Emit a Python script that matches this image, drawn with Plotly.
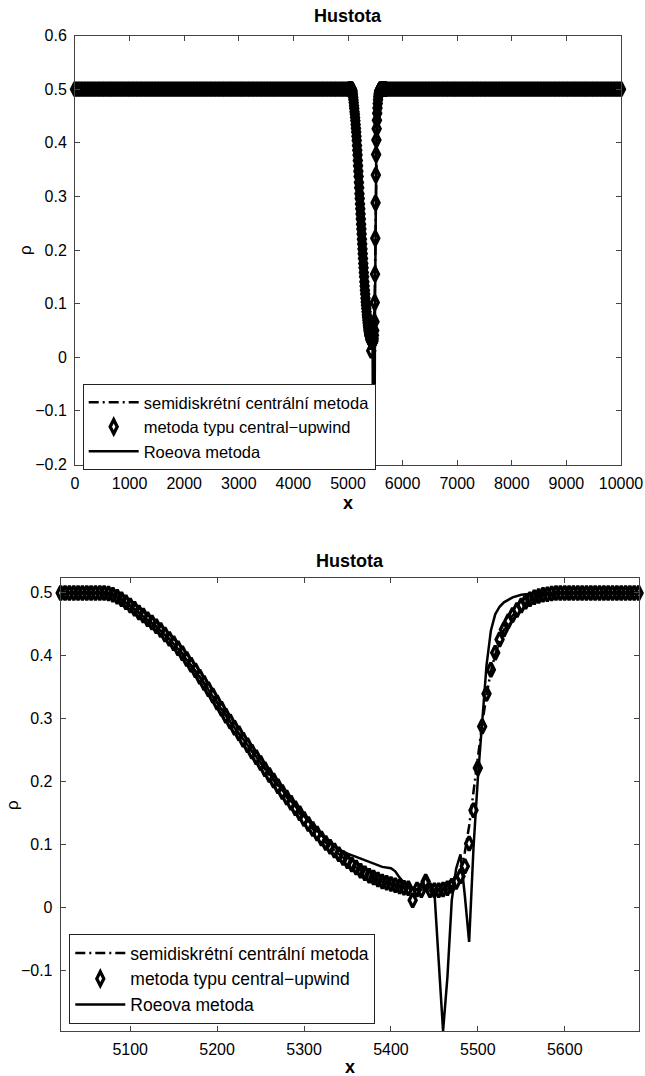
import plotly.graph_objects as go

# ---------------- data ----------------
# x tick labels
x_ticks_top = [0, 1000, 2000, 3000, 4000, 5000, 6000, 7000, 8000, 9000, 10000]
x_ticks_bottom = [5100, 5200, 5300, 5400, 5500, 5600]
y_ticks_top = [-0.2, -0.1, 0, 0.1, 0.2, 0.3, 0.4, 0.5, 0.6]
y_ticklabels_top = ["\u22120.2", "\u22120.1", "0", "0.1", "0.2", "0.3", "0.4", "0.5", "0.6"]
y_ticks_bottom = [-0.1, 0, 0.1, 0.2, 0.3, 0.4, 0.5]
y_ticklabels_bottom = ["\u22120.1", "0", "0.1", "0.2", "0.3", "0.4", "0.5"]

# central-upwind scheme (diamonds): plateau left of the wave
cu_x_left = [0, 50, 100, 150, 200, 250, 300, 350, 400, 450,
             500, 550, 600, 650, 700, 750, 800, 850, 900, 950,
             1000, 1050, 1100, 1150, 1200, 1250, 1300, 1350, 1400, 1450,
             1500, 1550, 1600, 1650, 1700, 1750, 1800, 1850, 1900, 1950,
             2000, 2050, 2100, 2150, 2200, 2250, 2300, 2350, 2400, 2450,
             2500, 2550, 2600, 2650, 2700, 2750, 2800, 2850, 2900, 2950,
             3000, 3050, 3100, 3150, 3200, 3250, 3300, 3350, 3400, 3450,
             3500, 3550, 3600, 3650, 3700, 3750, 3800, 3850, 3900, 3950,
             4000, 4050, 4100, 4150, 4200, 4250, 4300, 4350, 4400, 4450,
             4500, 4550, 4600, 4650, 4700, 4750, 4800, 4850, 4900, 4950,
             5000]
cu_rho_left = [0.5, 0.5, 0.5, 0.5, 0.5, 0.5, 0.5, 0.5, 0.5, 0.5,
               0.5, 0.5, 0.5, 0.5, 0.5, 0.5, 0.5, 0.5, 0.5, 0.5,
               0.5, 0.5, 0.5, 0.5, 0.5, 0.5, 0.5, 0.5, 0.5, 0.5,
               0.5, 0.5, 0.5, 0.5, 0.5, 0.5, 0.5, 0.5, 0.5, 0.5,
               0.5, 0.5, 0.5, 0.5, 0.5, 0.5, 0.5, 0.5, 0.5, 0.5,
               0.5, 0.5, 0.5, 0.5, 0.5, 0.5, 0.5, 0.5, 0.5, 0.5,
               0.5, 0.5, 0.5, 0.5, 0.5, 0.5, 0.5, 0.5, 0.5, 0.5,
               0.5, 0.5, 0.5, 0.5, 0.5, 0.5, 0.5, 0.5, 0.5, 0.5,
               0.5, 0.5, 0.5, 0.5, 0.5, 0.5, 0.5, 0.5, 0.5, 0.5,
               0.5, 0.5, 0.5, 0.5, 0.5, 0.5, 0.5, 0.5, 0.5, 0.5,
               0.5]
# central-upwind scheme: the wave region
cu_x_mid = [5020, 5025, 5030, 5035, 5040, 5045, 5050, 5055, 5060, 5065,
            5070, 5075, 5080, 5085, 5090, 5095, 5100, 5105, 5110, 5115,
            5120, 5125, 5130, 5135, 5140, 5145, 5150, 5155, 5160, 5165,
            5170, 5175, 5180, 5185, 5190, 5195, 5200, 5205, 5210, 5215,
            5220, 5225, 5230, 5235, 5240, 5245, 5250, 5255, 5260, 5265,
            5270, 5275, 5280, 5285, 5290, 5295, 5300, 5305, 5310, 5315,
            5320, 5325, 5330, 5335, 5340, 5345, 5350, 5355, 5360, 5365,
            5370, 5375, 5380, 5385, 5390, 5395, 5400, 5405, 5410, 5415,
            5420, 5425, 5430, 5435, 5440, 5445, 5450, 5455, 5460, 5465,
            5470, 5475, 5480, 5485, 5490, 5495, 5500, 5505, 5510, 5515,
            5520, 5525, 5530, 5535, 5540, 5545, 5550, 5555, 5560, 5565,
            5570, 5575, 5580, 5585, 5590, 5595, 5600, 5605, 5610, 5615,
            5620, 5625, 5630, 5635, 5640, 5645, 5650, 5655, 5660, 5665,
            5670, 5675, 5680, 5685, 5690]
cu_rho_mid = [0.500, 0.500, 0.500, 0.500, 0.500, 0.500, 0.500, 0.500, 0.500, 0.500,
              0.500, 0.499, 0.497, 0.494, 0.490, 0.485, 0.480, 0.475, 0.469, 0.464,
              0.458, 0.453, 0.447, 0.441, 0.434, 0.427, 0.420, 0.412, 0.404, 0.395,
              0.386, 0.377, 0.367, 0.357, 0.347, 0.337, 0.326, 0.316, 0.305, 0.296,
              0.286, 0.277, 0.267, 0.258, 0.248, 0.239, 0.230, 0.220, 0.211, 0.202,
              0.193, 0.184, 0.175, 0.167, 0.158, 0.150, 0.141, 0.133, 0.125, 0.118,
              0.110, 0.103, 0.097, 0.091, 0.085, 0.079, 0.074, 0.069, 0.064, 0.059,
              0.055, 0.051, 0.048, 0.045, 0.042, 0.040, 0.038, 0.036, 0.034, 0.032,
              0.031, 0.012, 0.029, 0.028, 0.042, 0.028, 0.028, 0.028, 0.029, 0.031,
              0.035, 0.041, 0.050, 0.066, 0.102, 0.155, 0.222, 0.288, 0.340, 0.378,
              0.405, 0.426, 0.442, 0.455, 0.465, 0.473, 0.480, 0.486, 0.490, 0.493,
              0.495, 0.497, 0.498, 0.499, 0.500, 0.500, 0.500, 0.500, 0.500, 0.500,
              0.500, 0.500, 0.500, 0.500, 0.500, 0.500, 0.500, 0.500, 0.500, 0.500,
              0.500, 0.500, 0.500, 0.500, 0.500]
# central-upwind scheme: plateau right of the wave
cu_x_right = [5700, 5750, 5800, 5850, 5900, 5950,
              6000, 6050, 6100, 6150, 6200, 6250, 6300, 6350, 6400, 6450,
              6500, 6550, 6600, 6650, 6700, 6750, 6800, 6850, 6900, 6950,
              7000, 7050, 7100, 7150, 7200, 7250, 7300, 7350, 7400, 7450,
              7500, 7550, 7600, 7650, 7700, 7750, 7800, 7850, 7900, 7950,
              8000, 8050, 8100, 8150, 8200, 8250, 8300, 8350, 8400, 8450,
              8500, 8550, 8600, 8650, 8700, 8750, 8800, 8850, 8900, 8950,
              9000, 9050, 9100, 9150, 9200, 9250, 9300, 9350, 9400, 9450,
              9500, 9550, 9600, 9650, 9700, 9750, 9800, 9850, 9900, 9950,
              10000]
cu_rho_right = [0.5, 0.5, 0.5, 0.5, 0.5, 0.5,
                0.5, 0.5, 0.5, 0.5, 0.5, 0.5, 0.5, 0.5, 0.5, 0.5,
                0.5, 0.5, 0.5, 0.5, 0.5, 0.5, 0.5, 0.5, 0.5, 0.5,
                0.5, 0.5, 0.5, 0.5, 0.5, 0.5, 0.5, 0.5, 0.5, 0.5,
                0.5, 0.5, 0.5, 0.5, 0.5, 0.5, 0.5, 0.5, 0.5, 0.5,
                0.5, 0.5, 0.5, 0.5, 0.5, 0.5, 0.5, 0.5, 0.5, 0.5,
                0.5, 0.5, 0.5, 0.5, 0.5, 0.5, 0.5, 0.5, 0.5, 0.5,
                0.5, 0.5, 0.5, 0.5, 0.5, 0.5, 0.5, 0.5, 0.5, 0.5,
                0.5, 0.5, 0.5, 0.5, 0.5, 0.5, 0.5, 0.5, 0.5, 0.5,
                0.5]

# semidiscrete central scheme (dash-dot line)
sd_x = [0, 5070, 5080, 5090, 5100, 5110, 5120, 5130, 5140, 5150, 5160,
        5170, 5180, 5190, 5200, 5210, 5220, 5230, 5240, 5250, 5260,
        5270, 5280, 5290, 5300, 5310, 5320, 5330, 5340, 5350, 5360,
        5370, 5380, 5390, 5400, 5410, 5420, 5430, 5440, 5450, 5460,
        5465, 5470, 5475, 5480, 5485, 5490, 5495, 5500, 5505, 5510,
        5515, 5520, 5525, 5530, 5535, 5540, 5550, 5560, 5570, 5580,
        5590, 10000]
sd_rho = [0.500, 0.500, 0.497, 0.490, 0.480, 0.469, 0.458, 0.447, 0.434, 0.420, 0.404,
          0.386, 0.367, 0.347, 0.326, 0.305, 0.286, 0.267, 0.248, 0.230, 0.211,
          0.193, 0.175, 0.158, 0.141, 0.125, 0.110, 0.097, 0.085, 0.074, 0.064,
          0.055, 0.048, 0.042, 0.038, 0.034, 0.031, 0.029, 0.028, 0.027, 0.028,
          0.030, 0.034, 0.042, 0.058, 0.088, 0.130, 0.185, 0.238, 0.292, 0.338,
          0.375, 0.402, 0.424, 0.441, 0.454, 0.464, 0.479, 0.489, 0.495, 0.498,
          0.500, 0.500]

# Roe scheme (solid line)
roe_x = [0, 5070, 5080, 5090, 5100, 5110, 5120, 5130, 5140, 5150, 5160,
         5170, 5180, 5190, 5200, 5210, 5220, 5230, 5240, 5250, 5260,
         5270, 5280, 5290, 5300, 5310, 5320, 5330, 5340, 5350, 5360,
         5370, 5380, 5390, 5400, 5405, 5410, 5415, 5420, 5425, 5430,
         5435, 5440, 5445, 5450, 5455, 5460, 5465, 5470, 5475, 5480,
         5485, 5490, 5495, 5500, 5505, 5510, 5515, 5520, 5525, 5530,
         5535, 5540, 5550, 5560, 5570, 10000]
roe_rho = [0.500, 0.500, 0.497, 0.489, 0.479, 0.468, 0.457, 0.446, 0.433, 0.419, 0.403,
           0.385, 0.366, 0.346, 0.325, 0.305, 0.286, 0.267, 0.249, 0.231, 0.213,
           0.195, 0.178, 0.161, 0.145, 0.130, 0.115, 0.102, 0.093, 0.086, 0.081,
           0.076, 0.070, 0.065, 0.063, 0.058, 0.048, 0.040, 0.034, 0.031, 0.029,
           0.033, 0.050, 0.032, 0.026, -0.085, -0.1955, -0.110, 0.012, 0.062, 0.085,
           0.020, -0.054, 0.095, 0.205, 0.295, 0.385, 0.440, 0.466, 0.478, 0.485,
           0.489, 0.493, 0.497, 0.499, 0.500, 0.500]

cu_x = cu_x_left + cu_x_mid + cu_x_right
cu_rho = cu_rho_left + cu_rho_mid + cu_rho_right

names = ["semidiskrétní centrální metoda", "metoda typu central\u2212upwind", "Roeova metoda"]

# ---------------- figure ----------------
FONT = "Liberation Sans, Arial, Helvetica, sans-serif"
W, H = 645, 1076
fig = go.Figure()

for xa, ya, lg in [("x", "y", "legend"), ("x2", "y2", "legend2")]:
    fig.add_trace(go.Scatter(
        x=sd_x, y=sd_rho, mode="lines", name=names[0],
        line=dict(color="black", width=2.5, dash="10px,4px,2px,4px"),
        xaxis=xa, yaxis=ya, legend=lg, hoverinfo="skip"))
    fig.add_trace(go.Scatter(
        x=cu_x, y=cu_rho, mode="markers", name=names[1],
        marker=dict(symbol="diamond-tall-open", size=10, color="black",
                    line=dict(width=3.3, color="black")),
        cliponaxis=False,
        xaxis=xa, yaxis=ya, legend=lg, hoverinfo="skip"))
    fig.add_trace(go.Scatter(
        x=roe_x, y=roe_rho, mode="lines", name=names[2],
        line=dict(color="black", width=2.5),
        xaxis=xa, yaxis=ya, legend=lg, hoverinfo="skip"))

axis_common = dict(showline=True, linecolor="#444", linewidth=1, mirror="ticks",
                   ticks="inside", ticklen=5, tickcolor="#444", tickwidth=1,
                   showgrid=False, zeroline=False,
                   tickfont=dict(family=FONT, size=16, color="black"),
                   ticklabelstandoff=4)

def px_x(p):
    return p / W

def px_y(p):
    return 1 - p / H

legend_common = dict(xanchor="left",
                     bgcolor="white", bordercolor="#222", borderwidth=1,
                     itemwidth=50, tracegroupgap=0)

fig.update_layout(
    width=W, height=H, autosize=False,
    margin=dict(l=0, r=0, t=0, b=0, autoexpand=False),
    paper_bgcolor="white", plot_bgcolor="white",
    font=dict(family=FONT, color="black"),
    showlegend=True,
    xaxis=dict(domain=[px_x(75), px_x(621)], range=[0, 10000], anchor="y",
               tickvals=x_ticks_top, ticktext=[str(v) for v in x_ticks_top], **axis_common),
    yaxis=dict(domain=[px_y(464.5), px_y(35.5)], range=[-0.2, 0.6], anchor="x",
               tickvals=y_ticks_top, ticktext=y_ticklabels_top, **axis_common),
    xaxis2=dict(domain=[px_x(60.7), px_x(638.6)], range=[5020, 5685], anchor="y2",
                tickvals=x_ticks_bottom, ticktext=[str(v) for v in x_ticks_bottom], **axis_common),
    yaxis2=dict(domain=[px_y(1031), px_y(578.4)], range=[-0.1955, 0.523], anchor="x2",
                tickvals=y_ticks_bottom, ticktext=y_ticklabels_bottom, **axis_common),
    legend=dict(x=px_x(82.7), y=px_y(384), yanchor="top",
                font=dict(family=FONT, size=16.5, color="black"), **legend_common),
    legend2=dict(x=px_x(69.3), y=px_y(1024), yanchor="bottom",
                 font=dict(family=FONT, size=17.5, color="black"), **legend_common),
)

ann = []
for cx, cy in [((75 + 621) / 2, 16), ((60.7 + 638.6) / 2, 561)]:
    ann.append(dict(text="<b>Hustota</b>", x=px_x(cx), y=px_y(cy), xref="paper", yref="paper",
                    xanchor="center", yanchor="middle", showarrow=False,
                    font=dict(family=FONT, size=18, color="black")))
for cx, cy in [((75 + 621) / 2, 503), ((60.7 + 638.6) / 2, 1067)]:
    ann.append(dict(text="<b>x</b>", x=px_x(cx), y=px_y(cy), xref="paper", yref="paper",
                    xanchor="center", yanchor="middle", showarrow=False,
                    font=dict(family=FONT, size=18, color="black")))
for cx, cy in [(25, 250), (12, 805)]:
    ann.append(dict(text="\u03c1", x=px_x(cx), y=px_y(cy), xref="paper", yref="paper",
                    xanchor="center", yanchor="middle", showarrow=False, textangle=-90,
                    font=dict(family=FONT, size=17, color="black")))
fig.update_layout(annotations=ann)

# remove the default page margin so the figure fills the window exactly
page_fix = ("document.documentElement.style.margin='0';document.body.style.margin='0';"
            "document.body.style.padding='0';document.documentElement.style.overflow='hidden';"
            "document.body.style.overflow='hidden';")
fig.write_html("out.html", post_script=page_fix,
               config={"displayModeBar": False, "responsive": False})
